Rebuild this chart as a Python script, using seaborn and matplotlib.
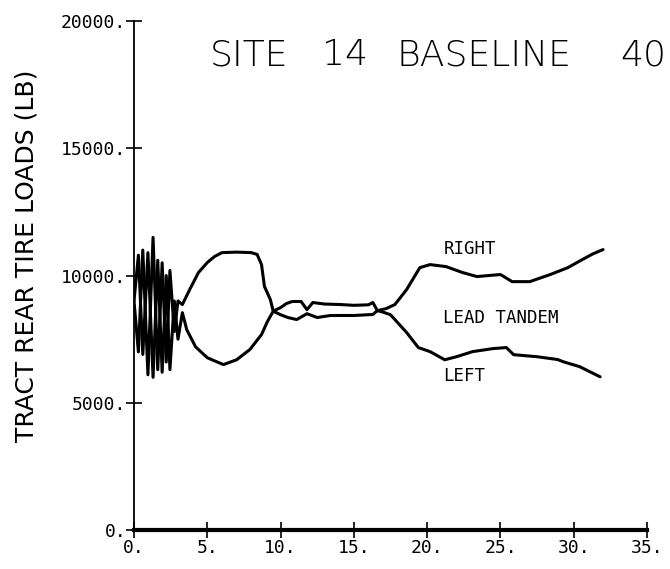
import matplotlib
matplotlib.use("Agg")
import matplotlib.pyplot as plt
import numpy as np
import pandas as pd
import seaborn as sns
from matplotlib.ticker import FuncFormatter

# --- data (time in sec, load in lb) ---
right_t = [0, 0.3, 0.6, 0.95, 1.3, 1.62, 1.92, 2.2, 2.45, 2.75, 3.0, 3.3,
           3.8, 4.4, 5.0, 5.5, 6.0, 7.0, 8.0, 8.4, 8.7, 8.9, 9.3, 9.5,
           10.0, 10.4, 10.8, 11.4, 11.8, 12.2, 13.0, 14.1, 15.0, 16.0, 16.3, 16.6,
           17.2, 17.8, 18.6, 19.5, 20.2, 21.3, 22.4, 23.4, 25.0, 25.8, 27.0,
           28.4, 29.6, 30.5, 31.3, 32.0]
right_load = [9000, 7000, 11000, 6100, 11500, 6300, 10500, 6600, 10200, 7800, 9000, 8860,
              9450, 10120, 10510, 10750, 10900, 10920, 10900, 10830, 10430, 9570, 9060, 8600,
              8740, 8900, 8980, 8980, 8660, 8940, 8880, 8860, 8830, 8850, 8940, 8620,
              8700, 8860, 9450, 10310, 10430, 10350, 10120, 9960, 10040, 9760, 9760,
              10040, 10310, 10600, 10850, 11020]

left_t = [0, 0.3, 0.6, 0.95, 1.3, 1.62, 1.92, 2.2, 2.45, 2.75, 3.0, 3.3,
          3.6, 4.2, 5.0, 6.1, 7.0, 7.9, 8.7, 9.1, 9.5,
          10.0, 10.5, 11.1, 11.8, 12.5, 13.4, 14.1, 15.0, 16.3, 16.6,
          17.0, 17.5, 18.6, 19.4, 20.2, 21.2, 22.0, 23.1, 24.5, 25.4, 25.9,
          27.5, 28.9, 29.3, 30.4, 31.8]
left_load = [9000, 10800, 6900, 10900, 6000, 10600, 6200, 10000, 6300, 9000, 7500, 8540,
             7870, 7200, 6770, 6500, 6690, 7090, 7680, 8190, 8600,
             8460, 8350, 8270, 8500, 8350, 8430, 8430, 8430, 8470, 8620,
             8560, 8460, 7760, 7170, 7010, 6690, 6810, 7010, 7130, 7170, 6890,
             6810, 6700, 6610, 6420, 6020]

curve_labels = ["RIGHT", "LEAD TANDEM", "LEFT"]
label_pos = [(21.1, 11060), (21.1, 8350), (21.1, 6060)]

title_words = ["SITE", "14", "BASELINE", "40"]
title_x = [0.313, 0.48, 0.592, 0.925]

x_ticks = [0, 5, 10, 15, 20, 25, 30, 35]
y_ticks = [0, 5000, 10000, 15000, 20000]

sns.set_style("white")
plt.rcParams["font.family"] = ["DejaVu Sans Mono", "DejaVu Sans"]
plt.rcParams["text.color"] = "black"
plt.rcParams["axes.labelcolor"] = "black"

fig = plt.figure(figsize=(6.7, 5.69), dpi=100)
ax = fig.add_axes([0.2, 0.0685, 0.7657, 0.8945])

right_df = pd.DataFrame({"t": right_t, "load": right_load})
left_df = pd.DataFrame({"t": left_t, "load": left_load})
sns.lineplot(data=right_df, x="t", y="load", ax=ax, color="black", lw=2.2,
             estimator=None, sort=False)
sns.lineplot(data=left_df, x="t", y="load", ax=ax, color="black", lw=2.2,
             estimator=None, sort=False)

for txt, (tx, ty) in zip(curve_labels, label_pos):
    ax.text(tx, ty, txt, fontsize=12.5, ha="left", va="center", color="black")

ax.set_xlim(0, 35)
ax.set_ylim(0, 20000)
ax.set_xticks(x_ticks)
ax.set_yticks(y_ticks)
fmt = FuncFormatter(lambda v, p: f"{v:.0f}.")
ax.xaxis.set_major_formatter(fmt)
ax.yaxis.set_major_formatter(fmt)
ax.tick_params(axis="both", direction="inout", length=11, width=1.2,
               labelsize=13, colors="black", bottom=True, left=True)
ax.tick_params(axis="y", pad=0)
ax.tick_params(axis="x", pad=1)

sns.despine(ax=ax)
ax.spines["left"].set_linewidth(1.3)
ax.spines["bottom"].set_linewidth(3.0)
ax.spines["left"].set_color("black")
ax.spines["bottom"].set_color("black")

ax.set_xlabel("")
ax.set_ylabel("")
fig.text(0.04, 0.55, "TRACT REAR TIRE LOADS (LB)", rotation=90,
         ha="center", va="center", fontsize=18, family="DejaVu Sans",
         color="black")
for word, wx in zip(title_words, title_x):
    fig.text(wx, 0.903, word, ha="left", va="center", fontsize=26,
             family="DejaVu Sans", fontweight="light", color="black")

fig.savefig("out.png", dpi=100, facecolor="white")
